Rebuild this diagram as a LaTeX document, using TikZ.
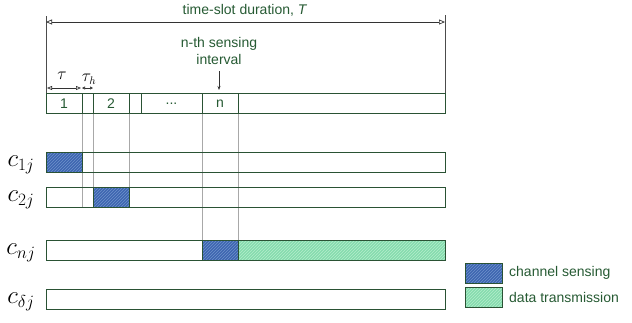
\documentclass[tikz,border=0pt]{standalone}
\usepackage{fontspec}
\setmainfont{Liberation Sans}
\usetikzlibrary{patterns,arrows.meta}
\definecolor{tgreen}{HTML}{265A33}
\definecolor{edge}{HTML}{2A5234}
\definecolor{gline}{HTML}{A8A8A8}
\definecolor{sblue}{HTML}{3D66B0}
\definecolor{sbluel}{HTML}{6E92CC}
\definecolor{dgreen}{HTML}{86DCAE}
\definecolor{dgreenl}{HTML}{B4ECCC}
\tikzset{
  lbl/.style={text=tgreen,font=\fontsize{14}{16}\selectfont,inner sep=0pt},
  rowbox/.style={draw=edge,line width=1pt,inner sep=0pt,outer sep=0pt,anchor=north west,minimum height=20pt},
  sense/.style={rowbox,draw=none,pattern=north east lines,pattern color=sbluel,preaction={fill=sblue},postaction={draw=edge,line width=1pt}},
  trans/.style={rowbox,draw=none,pattern=north east lines,pattern color=dgreenl,preaction={fill=dgreen},postaction={draw=edge,line width=1pt}},
  guide/.style={draw=gline,line width=1pt},
  dim/.style={draw=black!80,line width=0.7pt,{Triangle[open,length=6pt,width=5pt]}-{Triangle[open,length=6pt,width=5pt]}},
  smalldim/.style={draw=black!80,line width=0.6pt,{Triangle[open,length=3pt,width=3pt]}-{Triangle[open,length=3pt,width=3pt]}},
  clab/.style={inner sep=0pt,font=\fontsize{26}{28}\selectfont}
}
\begin{document}
\begin{tikzpicture}[x=1pt,y=-1pt]
\useasboundingbox (0,0) rectangle (632,322);
% guide lines
\coordinate (g1t) at (82,113); \coordinate (g1b) at (82,207);
\coordinate (g2t) at (93,113); \coordinate (g2b) at (93,187);
\coordinate (g3t) at (129,113); \coordinate (g3b) at (129,187);
\coordinate (g4t) at (202,113); \coordinate (g4b) at (202,240);
\coordinate (g5t) at (238,113); \coordinate (g5b) at (238,240);
\draw[guide] (g1t) -- (g1b);
\draw[guide] (g2t) -- (g2b);
\draw[guide] (g3t) -- (g3b);
\draw[guide] (g4t) -- (g4b);
\draw[guide] (g5t) -- (g5b);
% top bar
\node[rowbox,minimum width=399pt] (bar) at (46,93) {};
\foreach \xx in {82,93,129,141,202,238} \draw[edge,line width=1pt] (\xx,93) -- (\xx,113);
\node[lbl] (n1) at (64,103.5) {1};
\node[lbl] (n2) at (111,103.5) {2};
\node[lbl] (n3) at (171.5,103.5) {...};
\node[lbl] (nn) at (220,103.5) {n};
% time slot arrow
\coordinate (tl) at (46,16); \coordinate (tr) at (445,15);
\draw[black!70,line width=0.8pt] (tl) -- (46,93);
\draw[black!70,line width=0.8pt] (tr) -- (445,93);
\coordinate (al) at (46,22); \coordinate (ar) at (445,22);
\draw[dim] (al) -- (ar);
\node[lbl] (ts) at (245,10) {time-slot duration, \textit{T}};
\node[lbl,align=center] (nth) at (219,51) {n-th sensing\\[1pt]interval};
\coordinate (nthb) at (219,90);
\draw[black!80,line width=0.7pt,-{Stealth[length=4pt,width=3pt]}] (219,71) -- (nthb);
% tau
\coordinate (ta1) at (47,88); \coordinate (ta2) at (81,88);
\draw[dim,{Triangle[open,length=5pt,width=4pt]}-{Triangle[open,length=5pt,width=4pt]}] (ta1) -- (ta2);
\node[inner sep=0pt,font=\fontsize{16}{18}\selectfont] (tau) at (62,76) {$\tau$};
\coordinate (th1) at (82,88); \coordinate (th2) at (93,88);
\draw[smalldim] (th1) -- (th2);
\node[inner sep=0pt,font=\fontsize{16}{18}\selectfont] (tauh) at (89,79) {$\tau_h$};
% rows
\node[rowbox,minimum width=399pt] (r1) at (46,152) {};
\node[sense,minimum width=36pt] (s1) at (46,152) {};
\node[rowbox,minimum width=399pt] (r2) at (46,187) {};
\node[sense,minimum width=36pt] (s2) at (93,187) {};
\node[rowbox,minimum width=399pt] (rn) at (46,240) {};
\node[sense,minimum width=36pt] (sn) at (202,240) {};
\node[trans,minimum width=207pt] (tn) at (238,240) {};
\node[rowbox,minimum width=399pt] (rd) at (46,289) {};
% labels
\node[clab] (c1) at (21,165) {$c_{1j}$};
\node[clab] (c2) at (21,200) {$c_{2j}$};
\node[clab] (cn) at (21,253) {$c_{nj}$};
\node[clab] (cd) at (21,302) {$c_{\delta j}$};
% legend
\node[sense,minimum width=37pt] (lg1) at (465,263) {};
\node[trans,minimum width=37pt] (lg2) at (465,287) {};
\node[lbl,anchor=west] (lt1) at (509,273) {channel sensing};
\node[lbl,anchor=west] (lt2) at (509,297.5) {data transmission};
\end{tikzpicture}
\end{document}
